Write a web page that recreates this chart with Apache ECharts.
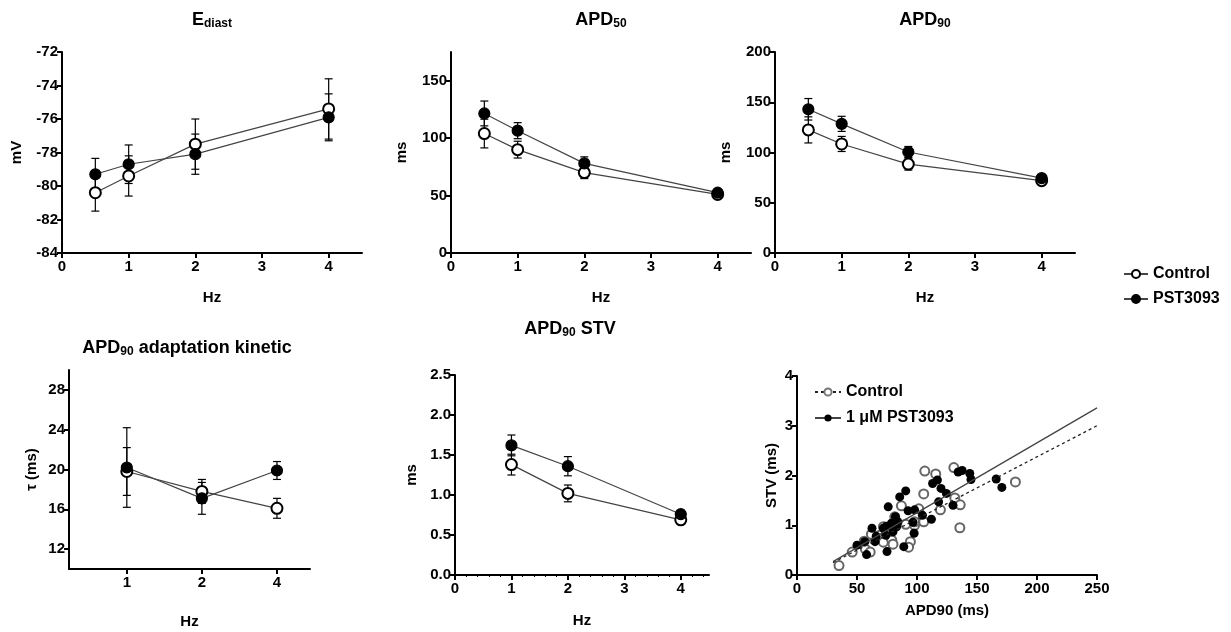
<!DOCTYPE html>
<html>
<head>
<meta charset="utf-8">
<script src="https://cdn.jsdelivr.net/npm/echarts@6/dist/echarts.min.js"></script>
<style>
  html, body { margin: 0; background: #fff; }
  #chart { width: 1231px; height: 632px; }
</style>
</head>
<body>
<div id="chart"></div>
<script>
// Frequencies
const hzTop = [0.5, 1, 2, 4];
const tauHz = ['1', '2', '4'];
const stvHz = [1, 2, 4];

// E diast (mV), mean and SEM
const ediastCtrl = [-80.4, -79.4, -77.5, -75.4];
const ediastCtrlErr = [1.1, 1.2, 1.5, 1.8];
const ediastPst = [-79.3, -78.7, -78.1, -75.9];
const ediastPstErr = [0.95, 1.15, 1.2, 1.4];

// APD50 (ms)
const apd50Ctrl = [104, 90, 70, 51];
const apd50CtrlErr = [12.5, 7.3, 5.2, 3];
const apd50Pst = [121.5, 106.5, 78, 52.5];
const apd50PstErr = [10.8, 7, 5.7, 2.5];

// APD90 (ms)
const apd90Ctrl = [122.5, 108.5, 88.5, 72];
const apd90CtrlErr = [13, 7.5, 6, 2];
const apd90Pst = [143, 128.5, 100.5, 74.5];
const apd90PstErr = [10.7, 7.5, 5.5, 2];

// APD90 adaptation kinetic, tau (ms)
const tauCtrl = [19.8, 17.8, 16.1];
const tauCtrlErr = [2.4, 1.2, 1.0];
const tauPst = [20.2, 17.1, 19.9];
const tauPstErr = [4.0, 1.6, 0.9];

// APD90 STV (ms)
const stvCtrl = [1.38, 1.02, 0.69];
const stvCtrlErr = [0.13, 0.105, 0.03];
const stvPst = [1.62, 1.36, 0.76];
const stvPstErr = [0.13, 0.12, 0.05];

// STV vs APD90 scatter [APD90 ms, STV ms]
const scatterCtrl = [
  [35, 0.19], [46, 0.46], [57, 0.52], [56, 0.68], [61, 0.46], [62, 0.82], [69, 0.80],
  [72, 0.66], [72, 0.97], [74.5, 0.84], [79, 0.70], [80, 0.62], [79.5, 0.97], [82, 1.0],
  [81.5, 1.17], [87, 1.39], [90.6, 1.02], [94.5, 0.67], [93, 0.56], [98, 1.0], [98, 1.07],
  [101.5, 1.33], [105.6, 1.63], [106.5, 2.09], [105.6, 1.07], [115.6, 2.03], [119.5, 1.31],
  [130.7, 2.16], [131.5, 1.55], [136, 1.41], [135.7, 0.95], [182, 1.87]
];
const scatterPst = [
  [50, 0.60], [56.4, 0.67], [58, 0.41], [62.5, 0.94], [65, 0.67], [66, 0.78], [72, 0.94],
  [74.5, 0.98], [76, 1.37], [75, 0.47], [74, 0.80], [78.7, 1.04], [80, 0.87], [82, 1.17],
  [84, 1.07], [83, 0.97], [85.6, 1.57], [89, 0.57], [90.6, 1.69], [92.6, 1.29], [96.7, 1.06],
  [97.6, 0.84], [98, 1.31], [104.5, 1.2], [112, 1.12], [113, 1.84], [117, 1.91], [118, 1.47],
  [120, 1.74], [124.5, 1.64], [130, 1.4], [134.3, 2.07], [137.6, 2.1], [144, 2.04],
  [145, 1.92], [166, 1.93], [170.7, 1.76]
];
// regression lines
const fitCtrl = [[30, 0.25], [250, 3.0]];
const fitPst = [[30, 0.27], [250, 3.36]];

const FONT = 'Liberation Sans, Arial, sans-serif';
const labelStyle = { color: '#000', fontFamily: FONT, fontWeight: 'bold', fontSize: 15 };
const nameStyle = { color: '#000', fontFamily: FONT, fontWeight: 'bold', fontSize: 15 };
const axisLine = { show: true, lineStyle: { color: '#000', width: 2 } };
const axisTick = { show: true, length: 5, lineStyle: { color: '#000', width: 2 } };

function xAxis(gi, min, max, ticks, name, nameGap, fmt) {
  return {
    type: 'value', gridIndex: gi, min, max, name, nameLocation: 'middle', nameGap,
    nameTextStyle: nameStyle,
    axisLine: { ...axisLine, onZero: false },
    axisTick: { ...axisTick, customValues: ticks },
    axisLabel: { ...labelStyle, margin: 6, customValues: ticks, formatter: fmt },
    splitLine: { show: false }
  };
}
function yAxis(gi, min, max, ticks, name, nameGap, fmt) {
  return {
    type: 'value', gridIndex: gi, min, max, name, nameLocation: 'middle', nameGap,
    nameTextStyle: nameStyle,
    axisLine: { ...axisLine, onZero: false },
    axisTick: { ...axisTick, customValues: ticks },
    axisLabel: { ...labelStyle, margin: 4, customValues: ticks, formatter: fmt },
    splitLine: { show: false }
  };
}

function errorSeries(gi, xs, vals, errs) {
  return {
    type: 'custom', name: 'err', xAxisIndex: gi, yAxisIndex: gi, z: 1, silent: true,
    data: xs.map((x, i) => [x, vals[i] - errs[i], vals[i] + errs[i]]),
    encode: { x: 0, y: [1, 2] },
    renderItem: function (params, api) {
      const top = api.coord([api.value(0), api.value(2)]);
      const bot = api.coord([api.value(0), api.value(1)]);
      const w = 4;
      const st = { stroke: '#000', lineWidth: 1.2 };
      return {
        type: 'group', children: [
          { type: 'line', shape: { x1: top[0], y1: top[1], x2: bot[0], y2: bot[1] }, style: st },
          { type: 'line', shape: { x1: top[0] - w, y1: top[1], x2: top[0] + w, y2: top[1] }, style: st },
          { type: 'line', shape: { x1: bot[0] - w, y1: bot[1], x2: bot[0] + w, y2: bot[1] }, style: st }
        ]
      };
    }
  };
}

function meanSeries(gi, name, xs, vals, filled) {
  return {
    type: 'line', name, xAxisIndex: gi, yAxisIndex: gi, z: 3,
    data: xs.map((x, i) => [x, vals[i]]),
    symbol: filled ? 'circle' : 'emptyCircle', symbolSize: 11,
    lineStyle: { color: '#444', width: 1.2 },
    itemStyle: { color: '#000', borderColor: '#000', borderWidth: 1.2 }
  };
}

function panelSeries(gi, xs, c, ce, p, pe) {
  return [
    meanSeries(gi, 'Control', xs, c, false),
    meanSeries(gi, 'PST3093', xs, p, true),
    errorSeries(gi, xs, c, ce),
    errorSeries(gi, xs, p, pe)
  ];
}

const tauPos = tauHz.map((h, i) => i);

const titleRich = {
  b: { fontFamily: FONT, fontWeight: 'bold', fontSize: 18, lineHeight: 21, verticalAlign: 'bottom', fill: '#000' },
  s: { fontFamily: FONT, fontWeight: 'bold', fontSize: 12, lineHeight: 10, verticalAlign: 'bottom', fill: '#000' }
};
function title(x, y, text) {
  return { type: 'text', x, y, style: { text, rich: titleRich, align: 'center', verticalAlign: 'middle' } };
}

const legendText = { fontFamily: FONT, fontWeight: 'bold', fontSize: 16, color: '#000' };

const stvX = xAxis(4, 0, 4.5, [0, 1, 2, 3, 4], 'Hz', 38);
stvX.minorTick = { show: true, splitNumber: 5, length: 2, lineStyle: { color: '#000', width: 1 } };

const chart = echarts.init(document.getElementById('chart'));
chart.setOption({
  animation: false,
  backgroundColor: '#fff',
  graphic: [
    title(212, 19, '{b|E}{s|diast}'),
    title(601, 19, '{b|APD}{s|50}'),
    title(925, 19, '{b|APD}{s|90}'),
    title(187, 347, '{b|APD}{s|90}{b| adaptation kinetic}'),
    title(570, 328, '{b|APD}{s|90}{b| STV}')
  ],
  grid: [
    { left: 62, top: 52, width: 300, height: 201 },
    { left: 451, top: 52, width: 300, height: 201 },
    { left: 775, top: 52, width: 300, height: 201 },
    { left: 69, top: 370, width: 241, height: 199 },
    { left: 455, top: 375, width: 254, height: 200 },
    { left: 797, top: 376, width: 300, height: 199 }
  ],
  xAxis: [
    xAxis(0, 0, 4.5, [0, 1, 2, 3, 4], 'Hz', 37),
    xAxis(1, 0, 4.5, [0, 1, 2, 3, 4], 'Hz', 37),
    xAxis(2, 0, 4.5, [0, 1, 2, 3, 4], 'Hz', 37),
    xAxis(3, -0.77, 2.44, tauPos, 'Hz', 45, v => tauHz[Math.round(v)]),
    stvX,
    xAxis(5, 0, 250, [0, 50, 100, 150, 200, 250], 'APD90 (ms)', 28)
  ],
  yAxis: [
    yAxis(0, -84, -72, [-84, -82, -80, -78, -76, -74, -72], 'mV', 38),
    yAxis(1, 0, 175, [0, 50, 100, 150], 'ms', 42),
    yAxis(2, 0, 200, [0, 50, 100, 150, 200], 'ms', 42),
    yAxis(3, 10, 30, [12, 16, 20, 24, 28], 'τ (ms)', 30),
    yAxis(4, 0, 2.5, [0, 0.5, 1, 1.5, 2, 2.5], 'ms', 36, v => v.toFixed(1)),
    yAxis(5, 0, 4, [0, 1, 2, 3, 4], 'STV (ms)', 18)
  ],
  legend: [
    {
      data: ['Control', 'PST3093'], orient: 'vertical', left: 1118, top: 261,
      itemWidth: 24, itemHeight: 10, itemGap: 9, selectedMode: false,
      textStyle: legendText
    },
    {
      data: ['Control\u200b', '1 μM PST3093'], orient: 'vertical', left: 809, top: 379,
      itemWidth: 26, itemHeight: 9, itemGap: 10, selectedMode: false,
      textStyle: legendText
    }
  ],
  series: [
    ...panelSeries(0, hzTop, ediastCtrl, ediastCtrlErr, ediastPst, ediastPstErr),
    ...panelSeries(1, hzTop, apd50Ctrl, apd50CtrlErr, apd50Pst, apd50PstErr),
    ...panelSeries(2, hzTop, apd90Ctrl, apd90CtrlErr, apd90Pst, apd90PstErr),
    ...panelSeries(3, tauPos, tauCtrl, tauCtrlErr, tauPst, tauPstErr),
    ...panelSeries(4, stvHz, stvCtrl, stvCtrlErr, stvPst, stvPstErr),
    {
      type: 'line', name: 'Control\u200b', xAxisIndex: 5, yAxisIndex: 5, data: fitCtrl,
      symbol: 'emptyCircle', showSymbol: false, z: 4,
      lineStyle: { color: '#222', width: 1.3, type: [3, 3] },
      itemStyle: { color: '#777' }
    },
    {
      type: 'line', name: '1 μM PST3093', xAxisIndex: 5, yAxisIndex: 5, data: fitPst,
      symbol: 'circle', showSymbol: false, z: 4,
      lineStyle: { color: '#444', width: 1.3 },
      itemStyle: { color: '#000' }
    },
    {
      type: 'scatter', name: 'ctrl pts', xAxisIndex: 5, yAxisIndex: 5, data: scatterCtrl,
      symbol: 'emptyCircle', symbolSize: 9, z: 3,
      itemStyle: { color: '#666', borderColor: '#666', borderWidth: 1.3, opacity: 1 }
    },
    {
      type: 'scatter', name: 'pst pts', xAxisIndex: 5, yAxisIndex: 5, data: scatterPst,
      symbol: 'circle', symbolSize: 9, z: 3,
      itemStyle: { color: '#000', opacity: 1 }
    }
  ]
});
</script>
</body>
</html>
